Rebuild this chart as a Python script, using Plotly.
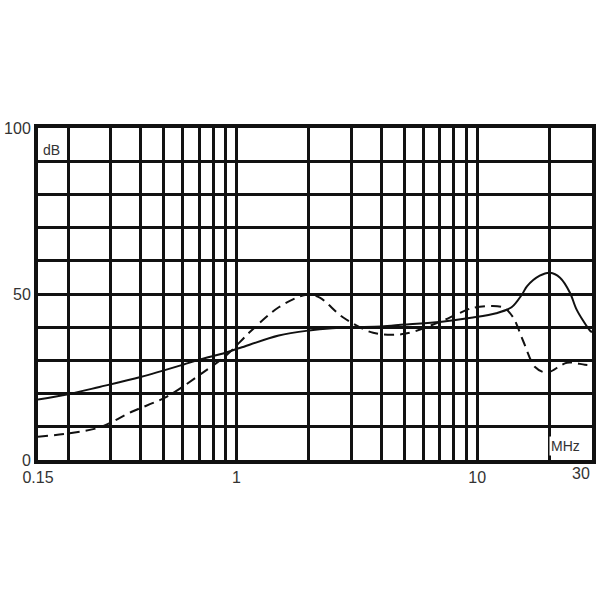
"""Attenuation curves, dB vs frequency (MHz), log x axis."""

import plotly.graph_objects as go

# solid curve
solid_freq = [0.15, 0.2, 0.27, 0.4, 0.6, 0.7, 0.9, 1.04, 1.5, 2.0, 2.5, 3.0, 4.0, 5.0,
              7.0, 9.6, 12.0, 13.9, 15.4, 16.1, 18.2, 20.1, 22.1, 24.3, 25.9, 29.4, 30.0]
solid_db = [18.2, 19.8, 22.0, 25.0, 28.7, 30.2, 32.3, 33.8, 37.5, 39.0, 39.7, 40.0, 40.2, 40.8,
            41.6, 42.9, 44.2, 46.0, 50.0, 52.3, 55.5, 56.4, 54.9, 50.4, 45.3, 39.0, 38.5]

# dashed curve
dashed_freq = [0.15, 0.2, 0.27, 0.37, 0.515, 0.706, 0.914, 1.14, 1.5, 1.96, 2.22, 2.77, 3.7,
               5.0, 7.0, 8.3, 9.6, 12.8, 14.1, 15.5, 17.4, 19.5, 23.6, 28.0, 30.0]
dashed_db = [7.0, 8.0, 9.8, 14.6, 19.1, 25.7, 31.7, 38.6, 46.0, 49.8, 48.9, 43.0, 38.3,
             38.0, 41.6, 44.0, 45.8, 46.0, 43.0, 36.0, 28.0, 26.3, 29.3, 28.7, 28.5]

# grid / ticks
x_grid = [0.15, 0.2, 0.3, 0.4, 0.5, 0.6, 0.7, 0.8, 0.9, 1, 2, 3, 4, 5, 6, 7, 8, 9, 10, 20, 30]
x_labels = {0.15: "0.15", 1: "1", 10: "10"}  # "30" drawn as annotation so it stays inside the page
y_grid = list(range(0, 101, 10))
y_labels = {0: "0", 50: "50", 100: "100"}

INK = "#111111"
TEXT = "#333333"
FONT = "Liberation Sans, Arial, sans-serif"

fig = go.Figure()
fig.add_trace(go.Scatter(
    x=dashed_freq, y=dashed_db, mode="lines",
    line=dict(color=INK, width=2, dash="10px,6px", shape="spline", smoothing=0.9),
))
fig.add_trace(go.Scatter(
    x=solid_freq, y=solid_db, mode="lines",
    line=dict(color=INK, width=2, shape="spline", smoothing=0.9),
))

axis_style = dict(
    showgrid=True, gridcolor=INK, gridwidth=3,
    showline=True, linecolor=INK, linewidth=4, mirror=True,
    ticks="", zeroline=False, automargin=False,
    tickfont=dict(family=FONT, size=16, color=TEXT),
)
fig.update_xaxes(
    type="log",
    range=[-0.8239, 1.4771],
    tickvals=x_grid,
    ticktext=[x_labels.get(v, "") for v in x_grid],
    **axis_style,
)
fig.update_yaxes(
    range=[0, 100],
    tickvals=y_grid,
    ticktext=[y_labels.get(v, "") for v in y_grid],
    **axis_style,
)

fig.add_annotation(text="30", xref="paper", yref="paper", x=1.0, y=0.0,
                   xanchor="right", yanchor="top", yshift=-3, showarrow=False,
                   font=dict(family=FONT, size=16, color=TEXT))
fig.add_annotation(text="dB", xref="paper", yref="paper", x=0.025, y=0.935,
                   xanchor="center", yanchor="middle", showarrow=False,
                   font=dict(family=FONT, size=14, color=TEXT))
fig.add_annotation(text="MHz", xref="paper", yref="paper", x=0.953, y=0.042,
                   xanchor="center", yanchor="middle", showarrow=False, bgcolor="white",
                   font=dict(family=FONT, size=14, color=TEXT))

fig.update_layout(
    width=600, height=600,
    margin=dict(l=38, r=8, t=128, b=140),
    plot_bgcolor="white", paper_bgcolor="white",
    showlegend=False,
)

# drop the browser's default body margin so the figure fills the 600x600 window
fig.write_html(
    "out.html",
    config={"displayModeBar": False},
    post_script="document.body.style.margin = '0';",
)
